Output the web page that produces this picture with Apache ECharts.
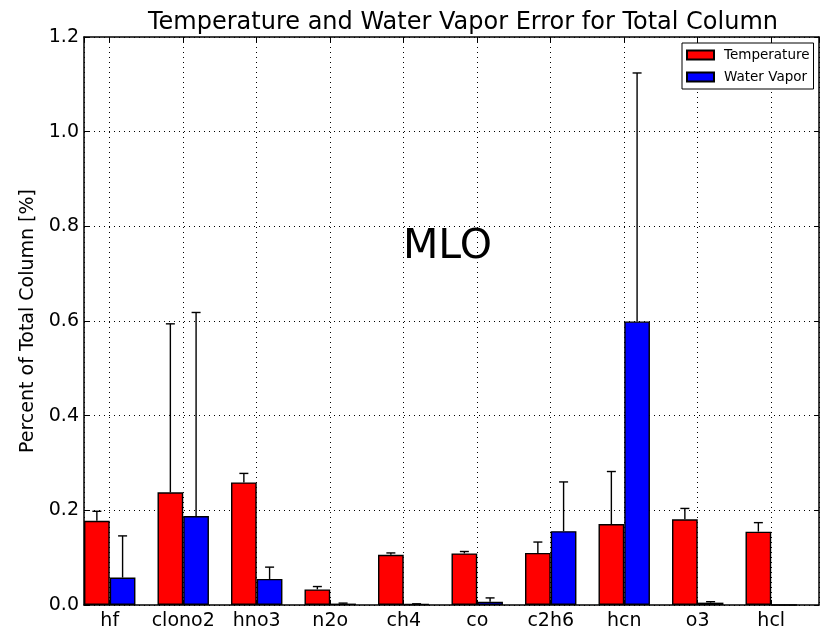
<!DOCTYPE html>
<html>
<head>
<meta charset="utf-8">
<script src="https://cdn.jsdelivr.net/npm/echarts@6/dist/echarts.min.js"></script>
<style>html,body{margin:0;padding:0;background:#fff}#c{width:827px;height:631px}</style>
</head>
<body>
<div id="c"></div>
<script>
const categories = ['hf','clono2','hno3','n2o','ch4','co','c2h6','hcn','o3','hcl'];
const tempVals  = [0.178,0.238,0.259,0.033,0.106,0.109,0.110,0.171,0.181,0.155];
const tempErr   = [0.020,0.356,0.019,0.006,0.004,0.004,0.023,0.111,0.023,0.019];
const vaporVals = [0.058,0.188,0.055,0.003,0.002,0.007,0.156,0.599,0.005,0.000];
const vaporErr  = [0.088,0.430,0.025,0.001,0.0005,0.008,0.104,0.525,0.002,0.000];
const yTicks = [0.0,0.2,0.4,0.6,0.8,1.0,1.2];

const FONT = 'DejaVu Sans';
const halfW = 0.175;
const tempData = categories.map((c,i)=>[i-halfW, tempVals[i]]);
const vaporData = categories.map((c,i)=>[i+halfW, vaporVals[i]]);
const errData = [];
categories.forEach((c,i)=>{
  errData.push([i-halfW, tempVals[i], tempVals[i]+tempErr[i]]);
  if (vaporErr[i] > 0) errData.push([i+halfW, vaporVals[i], vaporVals[i]+vaporErr[i]]);
});

const chart = echarts.init(document.getElementById('c'), null, {renderer:'canvas'});
const gridLine = {show:true, lineStyle:{color:'#000', width:1, type:[1,4]}};
chart.setOption({
  backgroundColor:'#fff',
  animation:false,
  title:{text:'Temperature and Water Vapor Error for Total Column', left:458, top:6, textAlign:'center',
    textStyle:{fontFamily:FONT, fontSize:24, fontWeight:'normal', color:'#000'}},
  legend:{orient:'vertical', left:682, top:43, padding:[5,4,5,4], itemGap:8, itemWidth:27, itemHeight:9,
    borderColor:'#000', borderWidth:1, backgroundColor:'#fff',
    textStyle:{fontFamily:FONT, fontSize:13.5, color:'#000', padding:[0,0,0,5]},
    data:[{name:'Temperature', icon:'rect'},{name:'Water Vapor', icon:'rect'}]},
  grid:{left:84, top:37, width:735, height:569, containLabel:false},
  xAxis:[{
    type:'value', min:-0.35, max:9.65, minInterval:1, maxInterval:1, splitNumber:10,
    axisLine:{show:true, onZero:false, lineStyle:{color:'#000', width:1.5}},
    axisTick:{show:true, inside:true, length:5, lineStyle:{color:'#000'}},
    axisLabel:{fontFamily:FONT, fontSize:19, color:'#000', margin:7, showMinLabel:false, showMaxLabel:false,
      formatter:v=>{const k=Math.round(v); return Math.abs(v-k)<1e-6 && categories[k]!==undefined ? categories[k] : '';}},
    splitLine:gridLine
  },{
    type:'value', position:'top', min:-0.35, max:9.65, minInterval:1, maxInterval:1, splitNumber:10,
    axisLine:{show:true, onZero:false, lineStyle:{color:'#000', width:1.5}},
    axisTick:{show:true, inside:true, length:5, lineStyle:{color:'#000'}},
    axisLabel:{show:false}, splitLine:{show:false}
  }],
  yAxis:[{
    type:'value', min:0, max:1.2, interval:0.2,
    name:'Percent of Total Column [%]', nameLocation:'middle', nameGap:41,
    nameTextStyle:{fontFamily:FONT, fontSize:19, color:'#000'},
    axisLine:{show:true, onZero:false, lineStyle:{color:'#000', width:1.5}},
    axisTick:{show:true, inside:true, length:5, lineStyle:{color:'#000'}},
    axisLabel:{fontFamily:FONT, fontSize:19, color:'#000', margin:5, formatter:v=>v.toFixed(1)},
    splitLine:gridLine
  },{
    type:'value', position:'right', min:0, max:1.2, interval:0.2,
    axisLine:{show:true, onZero:false, lineStyle:{color:'#000', width:1.5}},
    axisTick:{show:true, inside:true, length:5, lineStyle:{color:'#000'}},
    axisLabel:{show:false}, splitLine:{show:false}
  }],
  graphic:[{type:'text', left:403, top:227, style:{text:'MLO', fontFamily:FONT, fontSize:41, fill:'#000'}}],
  series:[
    {type:'custom', name:'err', xAxisIndex:0, yAxisIndex:0, z:1, data:errData,
      renderItem:(params, api)=>{
        const x = api.value(0);
        const p0 = api.coord([x, api.value(1)]);
        const p1 = api.coord([x, api.value(2)]);
        return {type:'group', children:[
          {type:'line', shape:{x1:p0[0], y1:p0[1], x2:p1[0], y2:p1[1]}, style:{stroke:'#000', lineWidth:1.4}},
          {type:'line', shape:{x1:p1[0]-4.5, y1:p1[1], x2:p1[0]+4.5, y2:p1[1]}, style:{stroke:'#000', lineWidth:1.4}}
        ]};
      }},
    {type:'bar', name:'Temperature', xAxisIndex:0, yAxisIndex:0, data:tempData, barWidth:25.7, barGap:'-100%', z:2,
      itemStyle:{color:'#ff0000', borderColor:'#000', borderWidth:1.4}},
    {type:'bar', name:'Water Vapor', xAxisIndex:0, yAxisIndex:0, data:vaporData, barWidth:25.7, barGap:'-100%', z:2,
      itemStyle:{color:'#0000ff', borderColor:'#000', borderWidth:1.4}}
  ]
});
</script>
</body>
</html>
